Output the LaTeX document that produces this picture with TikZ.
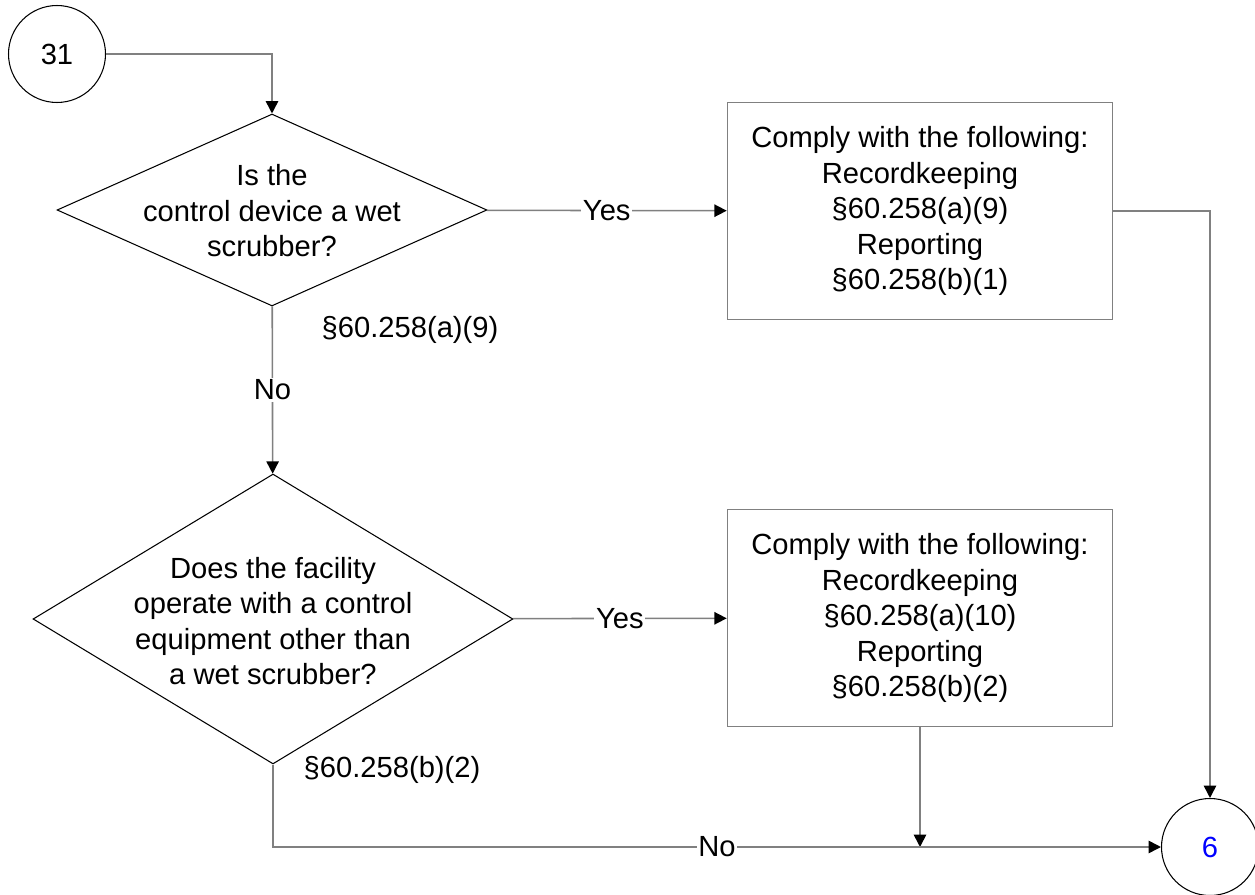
\documentclass[tikz,border=0pt]{standalone}
\usepackage{fontspec}
\setmainfont{Liberation Sans}
\usetikzlibrary{shapes.geometric,arrows.meta}
\definecolor{flowgray}{RGB}{128,128,128}
\definecolor{flowblue}{RGB}{0,0,255}

\begin{document}
\begin{tikzpicture}[x=0.02cm, y=-0.02cm,
  every node/.style={font=\fontsize{16.6}{20.2}\selectfont},
  connector/.style={draw=flowgray, line width=0.9pt, -{Triangle[length=7pt,width=7pt,black]}},
  offpage/.style={draw=black, line width=0.6pt, circle, minimum size=1.94cm, inner sep=0pt},
  decision/.style={draw=black, line width=0.6pt, diamond, inner sep=0pt},
  actionbox/.style={draw=flowgray, line width=0.9pt, rectangle, minimum width=7.7cm, minimum height=4.34cm, align=center},
  answer/.style={fill=white, inner sep=1pt}]
\useasboundingbox (0,0) rectangle (1255,895);

% Connectors to other pages
\node[offpage] (c31) at (57,54) {31};
\node[offpage, text=flowblue] (c6) at (1210,847) {6};

% Decisions
\node[decision, minimum width=8.6cm, minimum height=3.84cm] (q1) at (272,210) {};
\node[align=center] (q1text) at (272,211) {Is the\\control device a wet\\scrubber?};

\node[decision, minimum width=9.6cm, minimum height=5.8cm] (q2) at (273,619) {};
\node[align=center] (q2text) at (273,621) {Does the facility\\operate with a control\\equipment other than\\a wet scrubber?};

% Requirements
\node[actionbox] (box1) at (920,211) {Comply with the following:\\Recordkeeping\\§60.258(a)(9)\\Reporting\\§60.258(b)(1)};
\node[actionbox] (box2) at (920,618) {Comply with the following:\\Recordkeeping\\§60.258(a)(10)\\Reporting\\§60.258(b)(2)};

% Citations
\node (cite1) at (410,330) {§60.258(a)(9)};
\node (cite2) at (392,770) {§60.258(b)(2)};

\coordinate (join) at (920,847);

% Arrows
\draw[connector] (c31) -| (q1);
\draw[connector] (q1) -- node[answer] {Yes} (box1);
\draw[connector] (q1) -- node[answer] {No} (q2);
\draw[connector] (q2) -- node[answer] {Yes} (box2);
\draw[connector] (box1) -| (c6);
\draw[connector] (box2) -- (join);
\draw[connector] (q2) |- node[answer, pos=0.75] {No} (c6);
\end{tikzpicture}
\end{document}
